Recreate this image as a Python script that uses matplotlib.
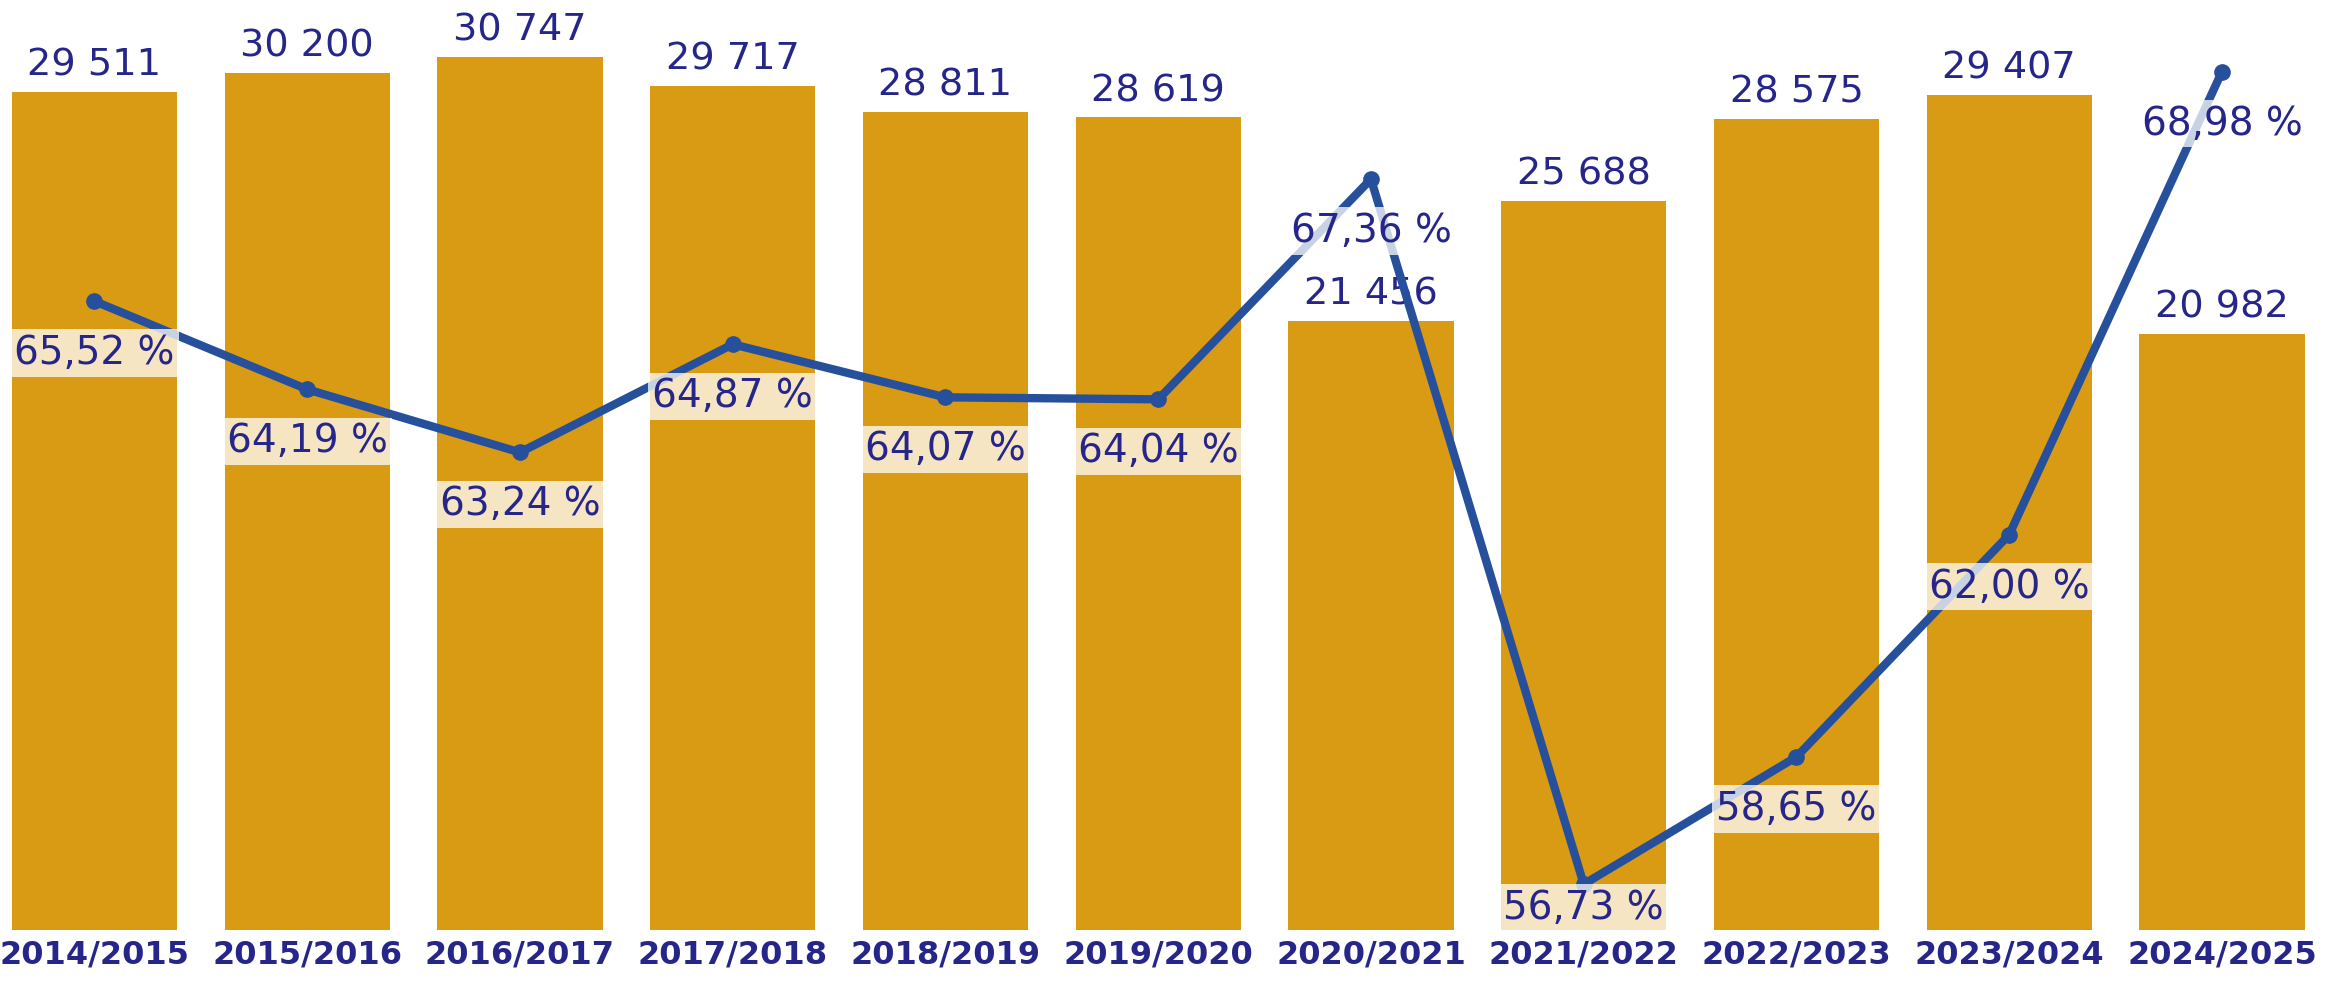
import numpy as np
import matplotlib
matplotlib.use("Agg")
import matplotlib.pyplot as plt

years = ["2014/2015", "2015/2016", "2016/2017", "2017/2018", "2018/2019", "2019/2020",
         "2020/2021", "2021/2022", "2022/2023", "2023/2024", "2024/2025"]
students = [29511, 30200, 30747, 29717, 28811, 28619, 21456, 25688, 28575, 29407, 20982]
rates = [65.52, 64.19, 63.24, 64.87, 64.07, 64.04, 67.36, 56.73, 58.65, 62.00, 68.98]

bar_color = "#D99A14"
line_color = "#27509C"
text_color = "#26268A"

plt.rcParams["font.family"] = ["DejaVu Sans"]

W, H = 2346, 984
fig = plt.figure(figsize=(W / 100, H / 100), dpi=100)
ax = fig.add_axes([0, 54 / H, 1, 930 / H])

x = np.arange(len(years))
ax.bar(x, students, width=0.776, color=bar_color, zorder=1)
ax.set_xlim(-0.444, 10.583)
ax.set_ylim(0, 32757)

for xi, v in zip(x, students):
    label = f"{v:,}".replace(",", " ")
    ax.annotate(label, (xi, v), xytext=(0, 6), textcoords="offset points",
                ha="center", va="bottom", fontsize=27.5, color=text_color)

ax.set_xticks(x)
ax.set_xticklabels(years, fontsize=23, fontweight="bold", color=text_color)
ax.tick_params(axis="x", length=0, pad=7)
ax.set_yticks([])
for s in ax.spines.values():
    s.set_visible(False)

ax2 = ax.twinx()
ax2.set_ylim(56.04, 70.06)
ax2.plot(x, rates, color=line_color, lw=6, marker="o", ms=11, zorder=2)
ax2.set_yticks([])
for s in ax2.spines.values():
    s.set_visible(False)

# percentage labels under each point, kept inside the plot area
fig.canvas.draw()
bottom_px = ax2.transAxes.transform((0, 0))[1]
for xi, r in zip(x, rates):
    py = ax2.transData.transform((xi, r))[1]
    off_px = min(52, py - bottom_px - 22)
    txt = f"{r:.2f} %".replace(".", ",")
    ax2.annotate(txt, (xi, r), xytext=(0, -off_px * 72 / 100), textcoords="offset points",
                 ha="center", va="center", fontsize=28, color=text_color, zorder=5,
                 bbox=dict(boxstyle="square,pad=0.12", fc="white", ec="none", alpha=0.75))

fig.savefig("out.png", dpi=100)
